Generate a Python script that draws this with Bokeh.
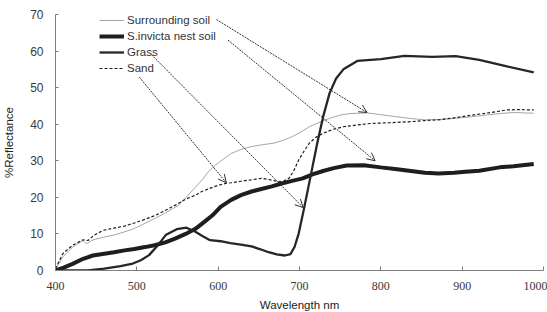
from bokeh.plotting import figure
from bokeh.models import (Legend, LegendItem, Arrow, OpenHead, ColumnDataSource,
                          FixedTicker, Range1d)
from bokeh.embed import file_html
from bokeh.resources import INLINE

# ---- data ----
grass_nm = [400, 440, 460, 480, 495, 505, 515, 524, 536, 549, 561, 572, 580, 590, 603, 615, 628,
            641, 652, 662, 672, 682, 689, 694, 699, 706, 716, 722, 729, 737, 745, 754, 771, 800,
            829, 863, 892, 921, 955, 988]
grass_v = [0, 0, 0.5, 1.2, 1.9, 2.8, 4.2, 6.4, 9.8, 11.3, 11.7, 10.6, 9.5, 8.3, 8.0, 7.5, 7.1,
           6.6, 5.8, 5.0, 4.4, 4.1, 4.5, 6.5, 10.1, 17.4, 28.4, 35, 42, 48.5, 52.5, 55, 57.3, 57.8,
           58.7, 58.4, 58.6, 57.6, 55.8, 54.2]

nest_nm = [400, 410, 421, 434, 446, 460, 472, 485, 497, 510, 522, 535, 547, 560, 572, 583, 593,
           603, 616, 628, 641, 653, 666, 678, 691, 704, 716, 729, 742, 758, 779, 800, 820, 837,
           854, 871, 890, 904, 921, 946, 963, 988]
nest_v = [0, 0.8, 1.8, 3.2, 4.1, 4.6, 5.0, 5.5, 5.9, 6.4, 6.9, 7.7, 8.7, 10.0, 11.4, 13.3, 15.1,
          17.4, 19.3, 20.6, 21.6, 22.3, 23.0, 23.8, 24.5, 25.2, 26.3, 27.2, 28.0, 28.7, 28.8, 28.2,
          27.7, 27.2, 26.7, 26.5, 26.7, 27.0, 27.3, 28.2, 28.5, 29.1]

surr_nm = [400, 409, 421, 434, 438, 445, 459, 472, 484, 497, 509, 522, 534, 545, 551, 557, 563,
           571, 580, 588, 597, 609, 616, 628, 641, 655, 670, 680, 691, 702, 712, 725, 737, 750,
           762, 783, 800, 817, 835, 854, 873, 892, 910, 929, 946, 963, 988]
surr_v = [0.5, 3.7, 6.4, 8.2, 7.3, 8.3, 9.1, 9.7, 10.5, 11.5, 12.8, 14.2, 15.6, 17.0, 17.8, 19.2,
          20.6, 22.5, 24.7, 27.0, 28.9, 30.9, 32.0, 33.1, 33.9, 34.4, 34.9, 35.6, 36.6, 37.9, 39.3,
          40.6, 41.6, 42.5, 42.9, 43.1, 42.6, 42.1, 41.6, 41.2, 41.3, 41.6, 42.0, 42.5, 42.9,
          43.2, 43.0]

sand_nm = [400, 409, 421, 434, 440, 447, 459, 472, 484, 497, 509, 522, 534, 545, 551, 560, 572,
           580, 589, 600, 609, 616, 628, 641, 653, 664, 674, 681, 687, 693, 699, 706, 712, 720,
           729, 741, 754, 771, 787, 810, 837, 854, 871, 892, 913, 935, 955, 970, 988]
sand_v = [0.5, 4.6, 6.9, 8.4, 8.2, 9.6, 11.0, 11.6, 12.1, 13.0, 13.9, 15.0, 16.3, 17.6, 18.3,
          19.5, 20.6, 21.6, 22.4, 23.3, 23.8, 24.0, 24.4, 24.8, 25.2, 24.8, 24.3, 24.5, 25.2,
          27.3, 30.2, 32.8, 34.8, 36.4, 37.5, 38.6, 39.3, 39.8, 40.2, 40.4, 40.7, 41.0, 41.2,
          41.8, 42.5, 43.2, 43.9, 44.0, 43.9]

series_names = ["Surrounding soil", "S.invicta nest soil", "Grass", "Sand"]

# arrows from legend labels to curves (data units)
arrow_x0 = [598, 612, 518, 503]
arrow_y0 = [68.6, 63.0, 59.0, 52.9]
arrow_x1 = [783, 793, 704.6, 610]
arrow_y1 = [43.2, 30.0, 17.2, 24.0]

x_ticks = [400, 500, 600, 700, 800, 900, 1000]
y_ticks = [0, 10, 20, 30, 40, 50, 60, 70]

p = figure(width=547, height=313, output_backend="svg", toolbar_location=None,
           x_range=Range1d(400, 1000), y_range=Range1d(0, 70),
           min_border_left=50, min_border_right=4, min_border_top=14, min_border_bottom=42)
p.outline_line_color = None
p.xgrid.visible = False
p.ygrid.visible = False

r_surr = p.line(surr_nm, surr_v, line_color="#a6a6a6", line_width=1)
r_nest = p.line(nest_nm, nest_v, line_color="#1e1e1e", line_width=4)
r_grass = p.line(grass_nm, grass_v, line_color="#262626", line_width=2.3)
r_sand = p.line(sand_nm, sand_v, line_color="#1e1e1e", line_width=1.2, line_dash="3 2")

for xa in p.xaxis:
    xa.ticker = FixedTicker(ticks=x_ticks)
    xa.axis_line_color = "#7f7f7f"
    xa.major_tick_line_color = "#7f7f7f"
    xa.major_tick_in = 4
    xa.major_tick_out = 0
    xa.minor_tick_line_color = None
    xa.major_label_text_font = "Liberation Serif"
    xa.major_label_text_font_size = "12px"
    xa.major_label_text_color = "#3a3a3a"
    xa.major_label_standoff = 11
    xa.axis_label = "Wavelength nm"
    xa.axis_label_text_font = "Liberation Sans"
    xa.axis_label_text_font_style = "normal"
    xa.axis_label_text_font_size = "11.5px"
    xa.axis_label_text_color = "#222222"
    xa.axis_label_standoff = 6

for ya in p.yaxis:
    ya.ticker = FixedTicker(ticks=y_ticks)
    ya.axis_line_color = "#7f7f7f"
    ya.major_tick_line_color = "#7f7f7f"
    ya.major_tick_in = 3
    ya.major_tick_out = 0
    ya.minor_tick_line_color = None
    ya.major_label_text_font = "Liberation Sans"
    ya.major_label_text_font_size = "12px"
    ya.major_label_text_color = "#3a3a3a"
    ya.major_label_standoff = 12
    ya.axis_label = "%Reflectance"
    ya.axis_label_text_font = "Liberation Sans"
    ya.axis_label_text_font_style = "normal"
    ya.axis_label_text_font_size = "11.5px"
    ya.axis_label_text_color = "#222222"
    ya.axis_label_standoff = 12

legend = Legend(items=[LegendItem(label=series_names[0], renderers=[r_surr]),
                       LegendItem(label=series_names[1], renderers=[r_nest]),
                       LegendItem(label=series_names[2], renderers=[r_grass]),
                       LegendItem(label=series_names[3], renderers=[r_sand])],
                location=(44, 195), padding=0, margin=0, spacing=2,
                glyph_width=25, glyph_height=14, label_height=14, label_standoff=3,
                label_text_font="Liberation Sans", label_text_font_size="11.5px",
                label_text_color="#333333",
                border_line_color=None, background_fill_alpha=0)
p.add_layout(legend)

asrc = ColumnDataSource(dict(x0=arrow_x0, y0=arrow_y0, x1=arrow_x1, y1=arrow_y1))
p.add_layout(Arrow(x_start="x0", y_start="y0", x_end="x1", y_end="y1", source=asrc,
                   line_color="#333333", line_width=1, line_dash="2 1",
                   end=OpenHead(size=8, line_color="#333333", line_width=1)))

open("out.html", "w").write(file_html(p, INLINE))
